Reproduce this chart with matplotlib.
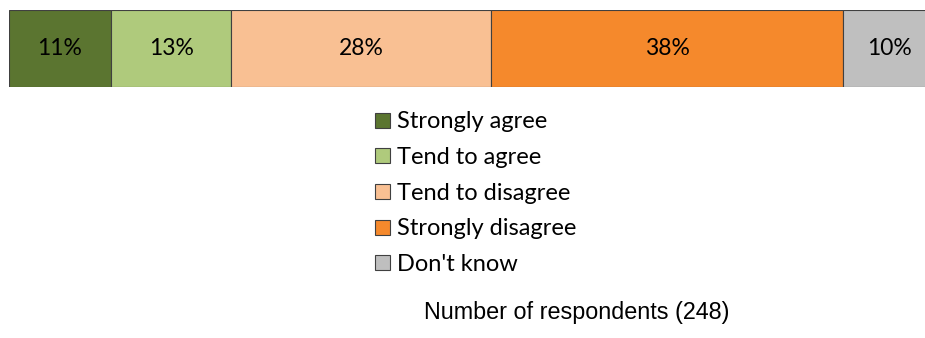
import matplotlib.pyplot as plt

# survey answers, share of respondents in percent
categories = ['Strongly agree', 'Tend to agree', 'Tend to disagree',
              'Strongly disagree', "Don't know"]
shares = [11, 13, 28, 38, 10]
labels = ['11%', '13%', '28%', '38%', '10%']
colors = ['#5b7530', '#afca7c', '#f9c093', '#f5892c', '#bfbfbf']
respondents = 248

fig = plt.figure(figsize=(9.25, 3.38), dpi=100)
# bar runs past the right edge like in the original
ax = fig.add_axes([9 / 925, 1 - 87 / 338, 927 / 925, 77 / 338])

left = 0
for cat, val, lab, col in zip(categories, shares, labels, colors):
    ax.barh(0, val, left=left, height=1, color=col, edgecolor='#404040',
            linewidth=0.8)
    ax.text(left + val / 2, 0, lab, ha='center', va='center',
            fontsize=16.5, family='Lato', color='black')
    left += val

ax.set_xlim(0, 100)
ax.set_ylim(-0.5, 0.5)
ax.axis('off')

# legend, one column under the bar
handles = [plt.Rectangle((0, 0), 1, 1, facecolor=c, edgecolor='#404040',
                         linewidth=0.8) for c in colors]
fig.legend(handles, categories, loc='upper left',
           bbox_to_anchor=(366 / 925, 1 - 102 / 338), frameon=False,
           prop={'family': 'Lato', 'size': 17}, handlelength=0.6,
           handleheight=0.6, handletextpad=0.3, labelspacing=0.62,
           borderaxespad=0)

fig.text(577 / 925, 1 - 312 / 338, f'Number of respondents ({respondents})',
         ha='center', va='center', fontsize=16.8, family='Liberation Sans')

fig.savefig('out.png', dpi=100)
